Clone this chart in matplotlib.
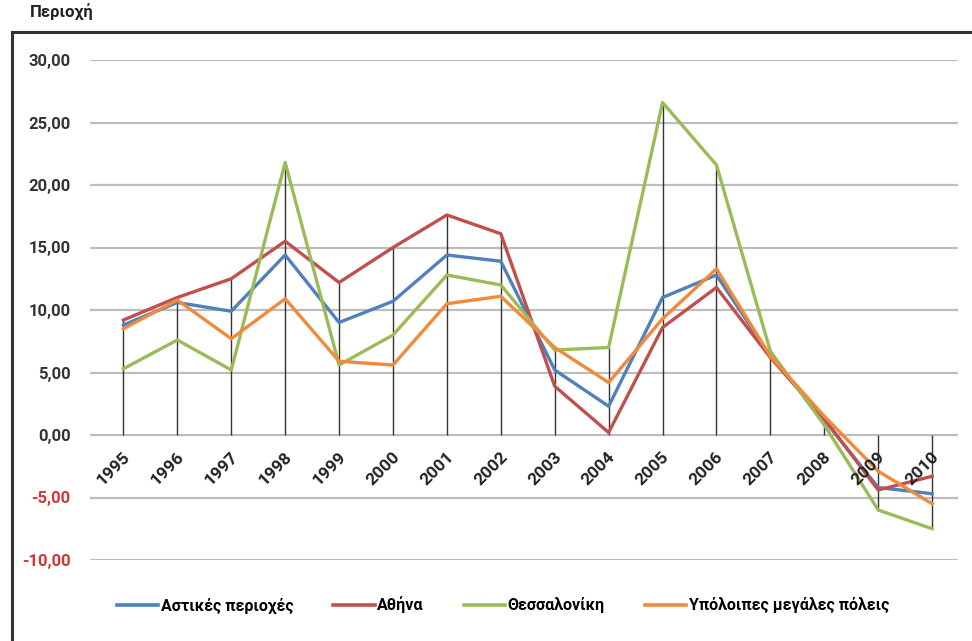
import matplotlib
matplotlib.use("Agg")
import matplotlib.pyplot as plt
from matplotlib.lines import Line2D

years = ["1995", "1996", "1997", "1998", "1999", "2000", "2001", "2002",
         "2003", "2004", "2005", "2006", "2007", "2008", "2009", "2010"]
astikes = [8.8, 10.6, 9.9, 14.4, 9.0, 10.7, 14.4, 13.9, 5.2, 2.3, 11.0, 12.8, 6.3, 1.2, -4.2, -4.7]
athina = [9.2, 11.0, 12.5, 15.5, 12.2, 15.0, 17.6, 16.1, 3.9, 0.2, 8.6, 11.8, 6.2, 1.3, -4.4, -3.3]
thessaloniki = [5.3, 7.6, 5.2, 21.8, 5.6, 8.0, 12.8, 12.0, 6.8, 7.0, 26.6, 21.6, 6.7, 0.8, -6.0, -7.5]
ypoloipes = [8.5, 10.8, 7.7, 10.9, 5.9, 5.6, 10.5, 11.1, 7.0, 4.2, 9.3, 13.3, 6.3, 1.5, -2.9, -5.5]
series_names = ["Αστικές περιοχές", "Αθήνα", "Θεσσαλονίκη", "Υπόλοιπες μεγάλες πόλεις"]
series_colors = ["#4f81bd", "#c0504d", "#9bbb59", "#f08a3c"]
yticks = [-10, -5, 0, 5, 10, 15, 20, 25, 30]

plt.rcParams["font.family"] = ["Roboto", "DejaVu Sans"]

fig = plt.figure(figsize=(9.72, 6.41), dpi=100)
ax = fig.add_axes([90/972, 81/641, 868/972, 500/641])

series = [astikes, athina, thessaloniki, ypoloipes]
x = list(range(len(years)))

# drop lines
lows = [min(0, *vals) for vals in zip(*series)]
highs = [max(0, *vals) for vals in zip(*series)]
ax.vlines(x, lows, highs, color="#333333", lw=1.0, zorder=2)

for vals, c, n in zip(series, series_colors, series_names):
    ax.plot(x, vals, color=c, lw=2.4, label=n, zorder=3)

ax.set_ylim(-10, 30)
ax.set_xlim(-0.62, 15.48)
ax.set_yticks(yticks)
ax.set_yticklabels([f"{v:.2f}".replace(".", ",") for v in yticks],
                   fontsize=12, fontweight="bold")
for lab, v in zip(ax.get_yticklabels(), yticks):
    lab.set_color("#d0353a" if v < 0 else "#333333")
ax.tick_params(axis="y", length=0, pad=14)
ax.set_xticks([])
ax.grid(axis="y", color="#bdbdbd", lw=1.6, zorder=1)
for s in ax.spines.values():
    s.set_visible(False)

for i, y in enumerate(years):
    ax.text(i + 0.08, -1.6, y, rotation=45, rotation_mode="anchor",
            ha="right", va="center", fontsize=12.5, fontweight="bold",
            color="#222222")

handles = [Line2D([0], [0], color=c, lw=2.6) for c in series_colors]
fig.legend(handles, series_names, loc="center", bbox_to_anchor=(503/972, 1 - 605/641),
           ncol=4, frameon=False, handlelength=2.6,
           handletextpad=0.15, columnspacing=2.5,
           prop={"family": ["Roboto", "DejaVu Sans"], "size": 11.5, "weight": "bold"})

# outer frame (top and left)
fig.add_artist(Line2D([12/972, 1.0], [1 - 32/641, 1 - 32/641], color="#333333", lw=2.2))
fig.add_artist(Line2D([12/972, 12/972], [0, 1 - 32/641], color="#333333", lw=2.2))
fig.text(30/972, 1 - 12/641, "Περιοχή", ha="left", va="center", fontsize=12, fontweight="bold",
         color="#222222")

fig.savefig("out.png", dpi=100)
